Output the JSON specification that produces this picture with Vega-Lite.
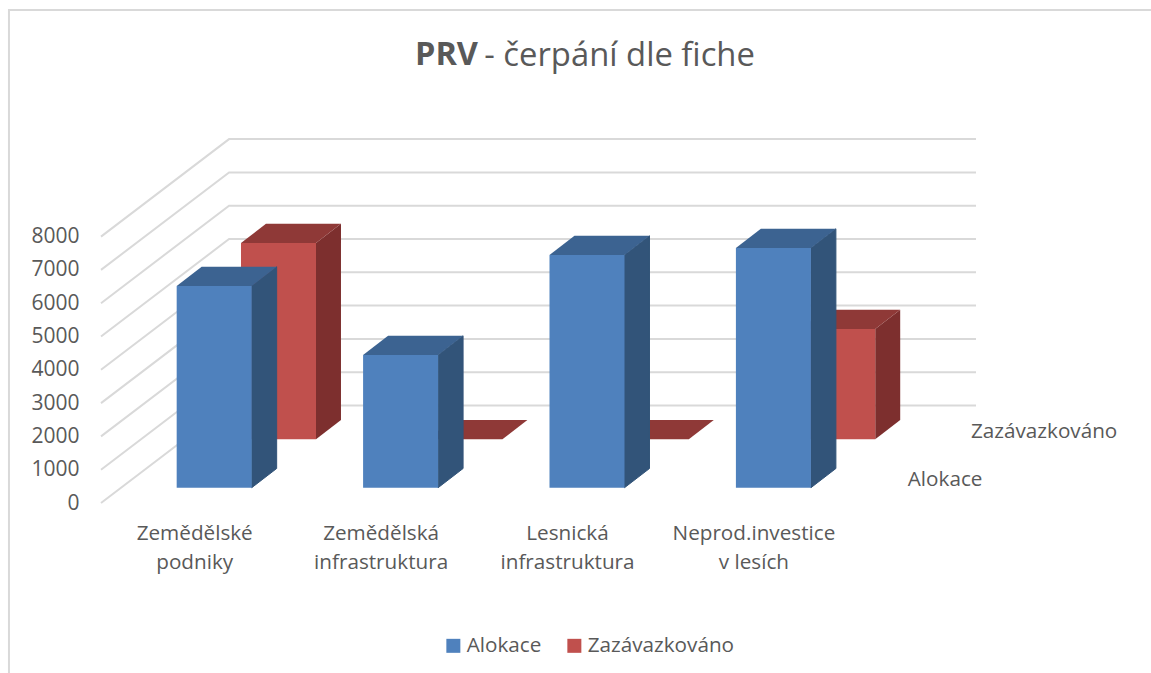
{
"$schema":"https://vega.github.io/schema/vega-lite/v6.json",
"width":875,"height":364,
"autosize":"none",
"padding":{"left":101,"top":139,"right":175,"bottom":170},
"background":"white",
"config":{"view":{"stroke":null},"font":"Open Sans"},
"title":{"text":"PRV","anchor":"start","frame":"group","dx":314,"offset":-89,"baseline":"alphabetic","font":"Open Sans","fontSize":32.5,"fontWeight":"bold","color":"#595959"},
"data":{"values":[
{"order":0,"label":"Zemědělské\npodniky","series":"Alokace","value":6057},
{"order":1,"label":"Zemědělská\ninfrastruktura","series":"Alokace","value":3985},
{"order":2,"label":"Lesnická\ninfrastruktura","series":"Alokace","value":6988},
{"order":3,"label":"Neprod.investice\nv lesích","series":"Alokace","value":7198},
{"order":0,"label":"Zemědělské\npodniky","series":"Zazávazkováno","value":5895},
{"order":1,"label":"Zemědělská\ninfrastruktura","series":"Zazávazkováno","value":0},
{"order":2,"label":"Lesnická\ninfrastruktura","series":"Zazávazkováno","value":0},
{"order":3,"label":"Neprod.investice\nv lesích","series":"Zazávazkováno","value":3312}
]},
"transform":[
{"calculate":"datum.series=='Alokace'?0:1","as":"s"},
{"calculate":"datum.order+datum.s*0.345","as":"xl"},
{"calculate":"datum.xl+0.4024","as":"xr"},
{"calculate":"459+datum.s*1454","as":"base"},
{"calculate":"datum.base+datum.value","as":"top"},
{"calculate":"[0,1]","as":"t"},
{"flatten":["t"]},
{"calculate":"datum.t*0.134","as":"ox"},
{"calculate":"datum.t*577","as":"oy"},
{"calculate":"datum.xl+datum.ox","as":"fl"},
{"calculate":"datum.xr+datum.ox","as":"fr"},
{"calculate":"datum.top+datum.oy","as":"ft"},
{"calculate":"datum.base+datum.oy","as":"fb"}
],
"layer":[
{"data":{"values":[{"name":"frame"}]},
 "mark":{"type":"rect","fill":"transparent","stroke":"#d9d9d9","strokeWidth":2,"clip":false},
 "encoding":{
  "x":{"datum":-0.8997,"type":"quantitative","scale":{"domain":[-0.406,4.288]},"axis":null},
  "x2":{"datum":7},
  "y":{"datum":-7000,"type":"quantitative","scale":{"domain":[0,10931]},"axis":{"values":[0,1000,2000,3000,4000,5000,6000,7000,8000],"format":"d","title":null,"domain":false,"ticks":false,"grid":false,"labelPadding":22,"labelFontSize":21,"labelColor":"#595959","labelFont":"Open Sans"}},
  "y2":{"datum":14805}}},
{"data":{"values":[{"v":0},{"v":1000},{"v":2000},{"v":3000},{"v":4000},{"v":5000},{"v":6000},{"v":7000},{"v":8000}]},
 "transform":[
  {"calculate":"[0,1,2]","as":"p"},{"flatten":["p"]},
  {"calculate":"datum.p==0?-0.406:(datum.p==1?0.281:4.288)","as":"gx"},
  {"calculate":"datum.p==0?datum.v:datum.v+2928","as":"gy"}],
 "mark":{"type":"line","color":"#d9d9d9","strokeWidth":2},
 "encoding":{
  "x":{"field":"gx","type":"quantitative","scale":{"domain":[-0.406,4.288]}},
  "y":{"field":"gy","type":"quantitative","scale":{"domain":[0,10931]}},
  "detail":{"field":"v"}}},
{"transform":[{"filter":"datum.s==1"}],
 "mark":{"type":"area","fill":"#7d2f2e"},
 "encoding":{"x":{"field":"fr","type":"quantitative","scale":{"domain":[-0.406,4.288]}},"y":{"field":"ft","type":"quantitative","scale":{"domain":[0,10931]}},"y2":{"field":"fb"},"detail":{"field":"order"}}},
{"transform":[{"filter":"datum.s==1"}],
 "mark":{"type":"area","orient":"horizontal","fill":"#8f3937"},
 "encoding":{"y":{"field":"ft","type":"quantitative","scale":{"domain":[0,10931]}},"x":{"field":"fl","type":"quantitative","scale":{"domain":[-0.406,4.288]}},"x2":{"field":"fr"},"detail":{"field":"order"}}},
{"transform":[{"filter":"datum.s==1 && datum.t==0"}],
 "mark":{"type":"rect"},
 "encoding":{"x":{"field":"xl","type":"quantitative","scale":{"domain":[-0.406,4.288]}},"x2":{"field":"xr"},"y":{"field":"top","type":"quantitative","scale":{"domain":[0,10931]}},"y2":{"field":"base"},
  "color":{"field":"series","type":"nominal","scale":{"domain":["Alokace","Zazávazkováno"],"range":["#4f81bd","#c0504d"]},
   "legend":{"title":null,"orient":"none","legendX":342,"legendY":496,"direction":"horizontal","columns":2,"symbolType":"square","symbolSize":196,"symbolStrokeWidth":0,"labelFontSize":20.7,"labelColor":"#595959","labelFont":"Open Sans","labelOffset":3,"columnPadding":22}}}},
{"transform":[{"filter":"datum.s==0"}],
 "mark":{"type":"area","fill":"#325479","stroke":"#325479","strokeWidth":1},
 "encoding":{"x":{"field":"fr","type":"quantitative","scale":{"domain":[-0.406,4.288]}},"y":{"field":"ft","type":"quantitative","scale":{"domain":[0,10931]}},"y2":{"field":"fb"},"detail":{"field":"order"}}},
{"transform":[{"filter":"datum.s==0"}],
 "mark":{"type":"area","orient":"horizontal","fill":"#3c6391"},
 "encoding":{"y":{"field":"ft","type":"quantitative","scale":{"domain":[0,10931]}},"x":{"field":"fl","type":"quantitative","scale":{"domain":[-0.406,4.288]}},"x2":{"field":"fr"},"detail":{"field":"order"}}},
{"transform":[{"filter":"datum.s==0 && datum.t==0"}],
 "mark":{"type":"rect"},
 "encoding":{"x":{"field":"xl","type":"quantitative","scale":{"domain":[-0.406,4.288]}},"x2":{"field":"xr"},"y":{"field":"top","type":"quantitative","scale":{"domain":[0,10931]}},"y2":{"field":"base"},
  "color":{"field":"series","type":"nominal","scale":{"domain":["Alokace","Zazávazkováno"],"range":["#4f81bd","#c0504d"]}}}},
{"transform":[{"filter":"datum.s==0 && datum.t==0"},{"calculate":"datum.order+0.0966","as":"lx"}],
 "mark":{"type":"text","lineBreak":"\n","lineHeight":29,"fontSize":20.7,"color":"#595959","align":"center","baseline":"alphabetic","font":"Open Sans"},
 "encoding":{"x":{"field":"lx","type":"quantitative","scale":{"domain":[-0.406,4.288]}},"y":{"datum":-1111,"type":"quantitative","scale":{"domain":[0,10931]}},"text":{"field":"label"}}},
{"transform":[{"filter":"datum.order==0 && datum.t==0"},{"calculate":"3.922+datum.s*0.339","as":"dx"},{"calculate":"510+datum.s*1442","as":"dy"}],
 "mark":{"type":"text","fontSize":20.7,"color":"#595959","align":"left","baseline":"alphabetic","font":"Open Sans"},
 "encoding":{"x":{"field":"dx","type":"quantitative","scale":{"domain":[-0.406,4.288]}},"y":{"field":"dy","type":"quantitative","scale":{"domain":[0,10931]}},"text":{"field":"series"}}},
{"data":{"values":[{"rest":"- čerpání dle fiche"}]},
 "mark":{"type":"text","fontSize":32.8,"color":"#595959","align":"left","baseline":"alphabetic","font":"Open Sans"},
 "encoding":{"x":{"datum":1.65,"type":"quantitative","scale":{"domain":[-0.406,4.288]}},"y":{"datum":13123,"type":"quantitative","scale":{"domain":[0,10931]}},"text":{"field":"rest"}}}
]
}
